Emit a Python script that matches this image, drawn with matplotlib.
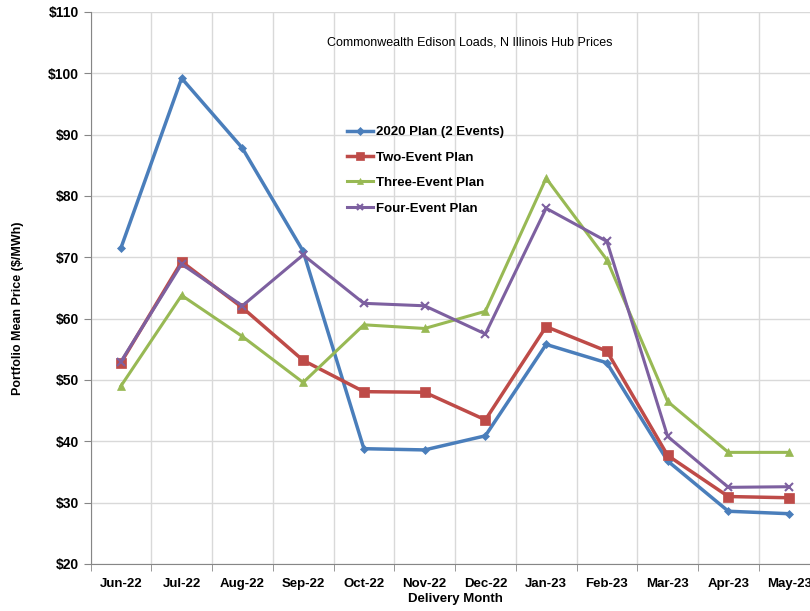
import matplotlib
matplotlib.use('Agg')
import matplotlib.pyplot as plt
import numpy as np
from matplotlib.ticker import FuncFormatter, FixedLocator

plt.rcParams['font.family'] = ['Liberation Sans Narrow', 'Liberation Sans', 'DejaVu Sans']

months = ['Jun-22', 'Jul-22', 'Aug-22', 'Sep-22', 'Oct-22', 'Nov-22',
          'Dec-22', 'Jan-23', 'Feb-23', 'Mar-23', 'Apr-23', 'May-23']
plan_2020 = [71.5, 99.2, 87.8, 71.0, 38.8, 38.6, 40.9, 55.8, 52.8, 36.8, 28.6, 28.2]
two_event = [52.8, 69.3, 61.8, 53.2, 48.1, 48.0, 43.5, 58.7, 54.7, 37.7, 31.0, 30.8]
three_event = [49.0, 63.8, 57.1, 49.6, 59.0, 58.4, 61.2, 82.9, 69.6, 46.5, 38.2, 38.2]
four_event = [53.0, 68.9, 62.1, 70.4, 62.5, 62.1, 57.5, 78.0, 72.6, 40.8, 32.5, 32.6]

# label, values, colour, marker, marker size, line width
series = [
    ('2020 Plan (2 Events)', plan_2020, '#4a7ebb', 'D', 4.5, 2.5),
    ('Two-Event Plan', two_event, '#be4b48', 's', 7, 2.5),
    ('Three-Event Plan', three_event, '#98b954', '^', 6, 2.2),
    ('Four-Event Plan', four_event, '#7d60a0', 'x', 6, 2.2),
]

fig = plt.figure(figsize=[8.1, 6.11], dpi=100)
ax = fig.add_axes([90.5 / 810, 47 / 611, 729 / 810, 552 / 611])

x = np.arange(len(months))
for label, vals, color, marker, ms, lw in series:
    ax.plot(x, vals, color=color, lw=lw, marker=marker, markersize=ms,
            markeredgewidth=1.5 if marker == 'x' else 0.5, label=label, zorder=3)

ax.set_xlim(-0.5, len(months) - 0.5)
ax.set_ylim(20, 110)
ax.set_yticks(np.arange(20, 111, 10))
ax.yaxis.set_major_formatter(FuncFormatter(lambda v, p: '${:d}'.format(int(v))))
ax.set_xticks(x)
ax.set_xticklabels(months)
ax.xaxis.set_minor_locator(FixedLocator(np.arange(-0.5, len(months), 1)))
ax.tick_params(axis='x', which='major', length=0, pad=10, labelsize=9.5)
ax.tick_params(axis='x', which='minor', length=5, color='#868686')
ax.tick_params(axis='y', length=5, color='#868686', labelsize=10)
for lbl in ax.get_xticklabels() + ax.get_yticklabels():
    lbl.set_fontweight('bold')

ax.grid(True, which='minor', axis='x', color='#d9d9d9', lw=1)
ax.grid(True, which='major', axis='y', color='#d9d9d9', lw=1)
ax.set_axisbelow(True)
for side in ['top', 'right']:
    ax.spines[side].set_visible(False)
for side in ['left', 'bottom']:
    ax.spines[side].set_color('#868686')

ax.set_xlabel('Delivery Month', fontsize=9.5, fontweight='bold', labelpad=2)
fig.text(18 / 810, 1 - 308 / 611, 'Portfolio Mean Price ($/MWh)', rotation=90,
         ha='center', va='center', fontsize=9, fontweight='bold')
ax.text(0.52, 0.945, 'Commonwealth Edison Loads, N Illinois Hub Prices',
        transform=ax.transAxes, ha='center', va='center', fontsize=9)

ax.legend(loc='upper left', bbox_to_anchor=(0.335, 0.815), frameon=False,
          prop={'weight': 'bold', 'size': 9.5}, handlelength=2.0,
          labelspacing=1.0, handletextpad=0.2, markerscale=0.8)

fig.savefig('out.png', dpi=100)
